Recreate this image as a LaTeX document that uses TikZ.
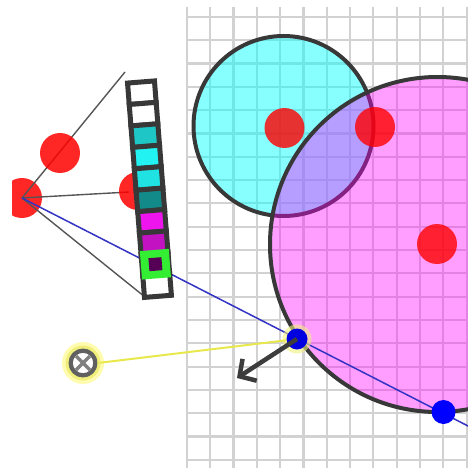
\documentclass[tikz,border=0pt]{standalone}
\usetikzlibrary{arrows.meta}
\definecolor{outl}{HTML}{383838}
\definecolor{gridc}{HTML}{D2D2D2}
\definecolor{bluel}{HTML}{3333C4}
\definecolor{grayl}{HTML}{555555}
\definecolor{cyanx}{HTML}{00FFFF}
\definecolor{magx}{HTML}{FF00FF}
\definecolor{redx}{HTML}{FF0000}
\definecolor{bluex}{HTML}{0000FF}
\definecolor{cellA}{HTML}{1FC6C6}
\definecolor{cellB}{HTML}{22F2F2}
\definecolor{cellC}{HTML}{20E2E2}
\definecolor{cellD}{HTML}{138A8A}
\definecolor{cellE}{HTML}{EE14EE}
\definecolor{cellF}{HTML}{C212C2}
\definecolor{limeg}{HTML}{33EE33}
\definecolor{dpurp}{HTML}{550055}
\definecolor{yel}{HTML}{E8E84C}
\definecolor{halo}{HTML}{F0F080}
\definecolor{arr}{HTML}{3C3C3C}
\tikzset{
  gridline/.style={draw=gridc, line width=2.3pt},
  bigcirc/.style={circle, inner sep=0pt, draw=outl, line width=4pt},
  reddot/.style={circle, inner sep=0pt, minimum size=40pt, fill=redx, fill opacity=0.85},
  rayline/.style={draw=grayl, line width=1.4pt},
  cellbox/.style={draw=outl, line width=5pt},
  bluedot/.style={circle, inner sep=0pt, fill=bluex},
}
\begin{document}
\begin{tikzpicture}[x=1pt,y=-1pt]
\useasboundingbox (0,0) rectangle (468,468);
\clip (12,0) rectangle (468,468);
% grid
\begin{scope}
\clip (186,7) rectangle (468,468);
\foreach \i in {0,...,12} \draw[gridline] ({186.7+23.33*\i},7) -- ({186.7+23.33*\i},468);
\foreach \j in {0,...,19} \draw[gridline] (186,{16.7+23.33*\j}) -- (468,{16.7+23.33*\j});
\end{scope}
% big circles
\node[bigcirc, minimum size=180pt, fill=cyanx, fill opacity=0.47] (cc) at (283.5,126) {};
\node[bigcirc, minimum size=335pt, fill=magx, fill opacity=0.38] (mc) at (437.5,244.5) {};
% frustum lines
\node[reddot] (cam) at (22,198) {};
\coordinate (ftop) at (125,72);
\coordinate (fmid) at (129,192);
\coordinate (fbot) at (145,297);
\draw[rayline] (cam.center) -- (ftop);
\draw[rayline] (cam.center) -- (fmid);
\draw[rayline] (cam.center) -- (fbot);
% red dots
\node[reddot] (d1) at (60,153) {};
\node[reddot, minimum size=38pt] (d2) at (138,191) {};
\node[reddot, fill opacity=0.8] (d3) at (284.5,128) {};
\node[reddot, fill opacity=0.8] (d4) at (375,127) {};
\node[reddot, fill opacity=0.8] (d5) at (437,244) {};
% blue line
\coordinate (bend) at (470,427);
\draw[draw=bluel, line width=1.5pt] (cam.center) -- (bend);
% bar
\begin{scope}[shift={(141,82)}, x={(0.9969pt,0.0788pt)}, y={(0.0788pt,-0.9969pt)}]
\foreach \c [count=\i from 0] in {white,white,cellA,cellB,cellC,cellD,cellE,cellF,dpurp,white} {
  \draw[cellbox, fill=\c] (-13.5,{21.5*\i}) -- (13.5,{21.5*\i}) -- (13.5,{21.5*\i+21.5}) -- (-13.5,{21.5*\i+21.5}) -- cycle;
}
\fill[limeg] (-14.5,168.5) -- (14.5,168.5) -- (14.5,197) -- (-14.5,197) -- cycle;
\fill[dpurp] (-6.5,176.25) -- (6.5,176.25) -- (6.5,189.25) -- (-6.5,189.25) -- cycle;
\end{scope}
% blue point with halo, yellow line, arrow
\fill[halo, opacity=0.6] (297,339) circle (14.5pt);
\node[bluedot, minimum size=21pt, fill=bluex!88!black] (bp) at (297,339) {};
\coordinate (atip) at (237,378);
\draw[draw=arr, line width=4.5pt, -{Straight Barb[length=12pt,width=26pt]}] (bp.center) -- (atip);
\node[bluedot, minimum size=24pt] (bq) at (443.5,412) {};
% crossed circle
\fill[yellow!70, opacity=0.45] (83,363) circle (21pt);
\node[circle, inner sep=0pt, minimum size=25pt, fill=white, draw=outl!80, line width=4.5pt] (xc) at (83,363) {};
\draw[draw=yel, line width=2pt] (xc.east) -- (bp);
\draw[draw=gray, line width=3.5pt] ([shift={(-7,-7)}]xc.center) -- ([shift={(7,7)}]xc.center);
\draw[draw=gray, line width=3.5pt] ([shift={(-7,7)}]xc.center) -- ([shift={(7,-7)}]xc.center);
\draw[draw=yel!80, line width=3pt, opacity=0.8] (xc.center) circle (16pt);
\end{tikzpicture}
\end{document}
